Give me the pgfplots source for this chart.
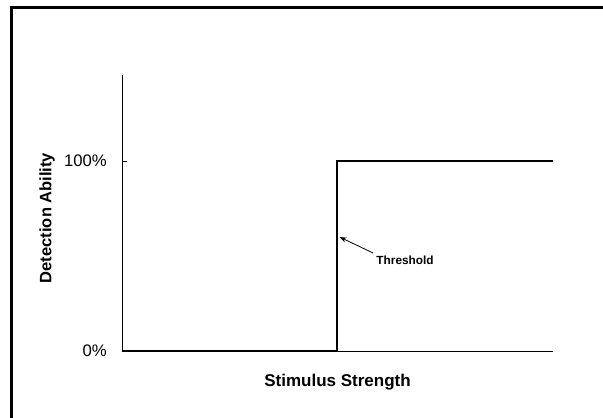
\documentclass[border=0pt]{standalone}
\usepackage{pgfplots}
\pgfplotsset{compat=1.18}
\usepackage{fontspec}
\setmainfont{Liberation Sans}
\usetikzlibrary{arrows.meta}
\begin{document}
\begin{tikzpicture}[x=1pt,y=1pt]
\useasboundingbox (0,0) rectangle (603,418);
\begin{scope}
\clip (0,0) rectangle (603,418);
\draw[line width=3pt] (11.5,410.5) rectangle (800,-100);
\begin{axis}[
  at={(122pt,67pt)}, anchor=origin,
  scale only axis, width=431pt, height=276pt,
  xmin=0, xmax=1, ymin=0, ymax=145.26,
  axis lines=left,
  axis line style={-, line width=0.9pt},
  xtick=\empty,
  ytick={0,100}, yticklabels={0\%,100\%},
  tick align=inside, major tick length=5pt,
  tick style={line width=0.6pt, black},
  /pgf/number format/assume math mode=true,
  yticklabel style={font=\fontsize{16.7}{20}\selectfont, inner sep=0pt, anchor=east, xshift=-15pt},
  xlabel={\bfseries Stimulus Strength},
  xlabel style={font=\fontsize{17}{20}\selectfont, at={(axis description cs:0.5,0)}, anchor=center, yshift=-31pt, inner sep=0pt},
  clip=false,
]
\addplot[black, line width=2.4pt, line join=miter] coordinates {(0,0) (0.4988,0) (0.4988,100) (1,100)};
\draw[-{Stealth[length=7pt,width=5pt]}, line width=0.8pt] (axis cs:0.5824,51.6) -- (axis cs:0.5046,60);
\node[font=\fontsize{11.8}{14}\selectfont\bfseries, anchor=west, inner sep=0pt] at (axis cs:0.590,47.9) {Threshold};
\end{axis}
\node[rotate=90, font=\fontsize{16.5}{20}\selectfont\bfseries, inner sep=0pt] at (47,200) {Detection Ability};
\end{scope}
\end{tikzpicture}
\end{document}
